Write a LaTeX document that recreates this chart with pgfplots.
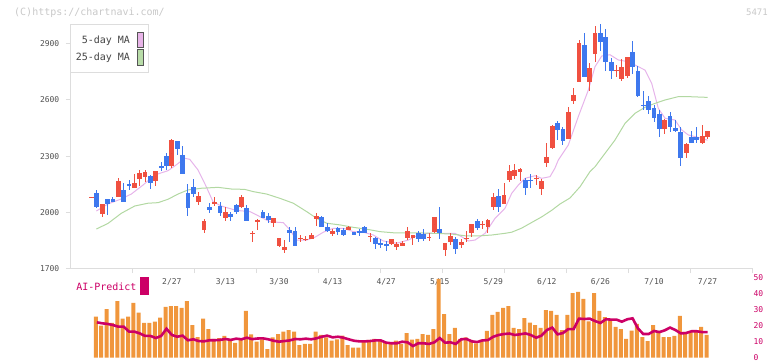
\documentclass[border=0pt]{standalone}
\usepackage{fontspec}
\usepackage{pgfplots}
\usepackage{pgfplotstable}
\pgfplotsset{compat=1.18}
\newfontfamily\mono{DejaVu Sans Mono}

\definecolor{candleRed}{HTML}{F05040}
\definecolor{candleBlue}{HTML}{3E78EE}
\definecolor{maPink}{HTML}{E6B4EA}
\definecolor{maGreen}{HTML}{B2D8A2}
\definecolor{maPinkBox}{HTML}{E8B4E8}
\definecolor{maGreenBox}{HTML}{B8DCA8}
\definecolor{swatchBorder}{HTML}{555555}
\definecolor{volOrange}{HTML}{F0963C}
\definecolor{aiMagenta}{HTML}{CC0066}
\definecolor{gridGrey}{HTML}{DDDDDD}
\definecolor{tickGrey}{HTML}{505050}
\definecolor{textGrey}{HTML}{444444}
\definecolor{headGrey}{HTML}{C8C8C8}

% daily candles: index, open, high, low, close
\pgfplotstableread{
i o h l c
0 2078 2083 2078 2083
2 1990 2044 1974 2044
5 2083 2183 2083 2167
8 2129 2204 2129 2156
9 2179 2226 2140 2211
10 2190 2226 2163 2215
12 2167 2222 2140 2220
15 2247 2391 2236 2386
20 2055 2108 2038 2087
21 1905 1964 1889 1953
23 2046 2081 2033 2055
25 1969 2028 1953 2001
28 2028 2092 2022 2081
30 1885 1899 1842 1889
31 1953 1962 1905 1957
34 1944 1969 1922 1969
35 1821 1862 1815 1862
36 1798 1851 1783 1814
39 1860 1878 1842 1864
40 1855 1873 1846 1859
41 1857 1887 1857 1878
42 1965 1994 1928 1980
45 1883 1910 1873 1899
48 1905 1926 1905 1921
52 1871 1887 1841 1875
56 1830 1857 1825 1857
57 1814 1840 1798 1830
58 1821 1848 1821 1837
59 1864 1921 1851 1899
60 1864 1878 1825 1878
63 1865 1889 1848 1869
64 1894 1976 1889 1974
66 1798 1835 1767 1835
67 1841 1889 1825 1873
69 1825 1857 1809 1841
70 1860 1899 1841 1864
71 1889 1937 1867 1937
73 1935 1953 1910 1939
74 1921 1964 1889 1958
75 2028 2103 2012 2081
77 2044 2156 2044 2092
78 2172 2252 2161 2220
79 2194 2258 2177 2226
80 2215 2236 2167 2231
83 2181 2199 2145 2185
84 2124 2177 2092 2167
85 2263 2370 2243 2295
86 2343 2466 2338 2461
89 2391 2562 2391 2536
90 2595 2664 2579 2627
91 2696 2921 2696 2905
93 2696 2798 2648 2771
94 2846 2996 2804 2958
98 2758 2787 2723 2762
99 2712 2819 2702 2776
100 2728 2830 2720 2830
107 2445 2498 2418 2493
111 2317 2370 2290 2365
114 2370 2466 2365 2407
115 2402 2434 2390 2434
}\upcandles

\pgfplotstableread{
i o h l c
1 2103 2117 2022 2028
3 2071 2071 1985 2044
4 2071 2083 2056 2056
6 2119 2156 2056 2056
7 2151 2172 2119 2142
11 2194 2198 2124 2156
13 2247 2268 2220 2238
14 2300 2317 2226 2247
16 2381 2381 2307 2340
17 2306 2354 2204 2204
18 2103 2151 1980 2022
19 2135 2177 2081 2097
22 2028 2049 1996 2012
24 2033 2055 1980 1996
26 1990 2001 1955 1976
27 2038 2044 1990 2001
29 2022 2038 1953 1953
32 2001 2012 1971 1971
33 1980 1996 1944 1958
37 1905 1922 1842 1890
38 1899 1921 1821 1821
43 1974 1980 1921 1921
44 1921 1944 1894 1899
46 1915 1921 1878 1894
47 1905 1915 1873 1878
49 1894 1896 1876 1878
50 1899 1910 1873 1889
51 1921 1926 1889 1889
53 1862 1867 1803 1830
54 1835 1856 1808 1825
55 1830 1846 1793 1819
61 1889 1899 1842 1857
62 1883 1910 1848 1857
65 1910 2029 1857 1889
68 1857 1867 1778 1803
72 1953 1964 1906 1916
76 2087 2124 2001 2029
81 2172 2183 2092 2129
82 2174 2204 2129 2169
87 2477 2488 2386 2440
88 2445 2456 2359 2381
92 2894 2958 2723 2723
95 2958 3006 2862 2910
96 2937 2980 2755 2804
97 2804 2825 2712 2755
101 2857 2916 2739 2776
102 2755 2782 2616 2621
103 2575 2648 2546 2570
104 2595 2621 2525 2546
105 2557 2573 2482 2503
106 2525 2546 2402 2445
108 2514 2536 2429 2456
109 2450 2493 2429 2434
110 2429 2456 2247 2290
112 2402 2434 2370 2370
113 2402 2456 2370 2386
}\downcandles

% 5-day moving average
\pgfplotstableread{
i v
0.9 2006
3.08 2044
5.56 2071
7.43 2097
9.61 2145
11.8 2199
14.28 2222
15.77 2252
17.4 2288
18.33 2283
19.88 2226
21.43 2136
22.68 2056
24.23 2033
26.73 2012
27.7 2008
29.6 2003
31.45 1976
33.3 1949
35.8 1944
37.05 1905
38.3 1851
40.17 1851
41.7 1866
43.27 1893
45.14 1914
47.0 1914
48.87 1896
50.74 1893
52.6 1878
54.47 1846
56.97 1834
59.14 1851
61.0 1878
62.87 1887
65.37 1887
67.86 1887
69.1 1869
70.34 1846
71.59 1851
73.46 1887
75.32 1967
77.19 2021
78.44 2101
79.67 2145
80.92 2181
82.79 2195
84.04 2181
85.59 2190
86.5 2235
87.14 2279
89.0 2359
90.87 2511
92.74 2653
93.99 2778
95.24 2835
96.79 2842
98.34 2814
100.2 2805
102.07 2778
103.32 2760
104.57 2689
105.8 2556
107.06 2502
108.92 2493
110.17 2440
111.4 2413
113.27 2400
115 2385
}\mafive

% 25-day moving average
\pgfplotstableread{
i v
0.9 1910
3.08 1940
5.56 1994
8.06 2033
10.55 2048
12.41 2051
14.28 2069
16.15 2097
18.01 2119
20.5 2128
23.61 2133
26.1 2124
28.6 2122
30.2 2110
32.7 2097
35.19 2074
37.67 2048
40.17 2003
42.04 1967
43.9 1941
46.39 1932
48.87 1919
51.37 1909
53.86 1896
56.34 1890
60.39 1890
64.12 1887
67.24 1883
69.72 1874
72.2 1873
74.71 1878
77.19 1887
78.44 1893
80.31 1915
82.17 1945
84.04 1975
85.9 2010
87.46 2044
89.32 2076
91.19 2136
93.05 2217
93.99 2243
95.86 2315
97.72 2386
99.59 2475
101.46 2529
103.32 2561
105.19 2582
107.06 2600
109.54 2618
111.4 2618
115 2614
}\matwentyfive

% volume (bars) and AI-Predict line, same index as the candles
\pgfplotstableread{
i v p
1 25.6 22.1
2 20.0 21.5
3 30.4 21.1
4 21.7 20.4
5 35.4 19.4
6 24.4 19.4
7 25.6 16.3
8 34.2 16.3
9 28.1 15.2
10 21.7 13.6
11 21.7 13.6
12 22.5 12.3
13 25.0 13.6
14 31.7 18.1
15 32.3 14.2
16 32.3 13.1
17 31.1 13.8
18 35.4 10.9
19 20.4 11.5
20 12.9 10.4
21 24.4 10.2
22 17.9 10.9
23 11.7 10.9
24 12.3 11.1
25 13.6 11.7
26 11.7 11.1
27 9.2 11.9
28 11.7 11.5
29 29.2 12.5
30 14.5 11.6
31 10.0 12.0
32 11.5 12.1
33 5.4 11.5
34 12.7 10.6
35 14.8 10.0
36 16.3 10.4
37 17.3 10.8
38 16.3 11.7
39 7.9 11.5
40 8.6 11.9
41 8.6 11.5
42 16.3 12.1
43 14.2 13.1
44 12.7 13.8
45 10.6 12.7
46 11.5 13.1
47 13.8 12.5
48 7.9 11.5
49 6.3 10.6
50 6.3 10.2
51 10.0 10.2
52 11.1 10.4
53 11.7 10.8
54 10.6 10.8
55 9.4 9.4
56 9.0 9.0
57 10.6 9.0
58 8.6 10.0
59 15.4 9.6
60 11.3 7.3
61 11.7 9.0
62 14.8 9.0
63 14.2 8.6
64 17.9 9.6
65 49.2 12.3
66 27.3 9.4
67 14.8 9.6
68 18.6 8.6
69 11.7 11.5
70 12.7 11.7
71 11.1 10.2
72 9.0 9.8
73 11.3 10.8
74 16.7 11.0
75 26.7 13.1
76 28.6 14.2
77 31.2 14.8
78 32.3 15.1
79 18.6 14.2
80 17.9 14.6
81 24.8 15.2
82 21.9 14.2
83 20.4 12.5
84 18.6 13.8
85 29.8 17.3
86 29.2 18.8
87 26.7 14.6
88 17.3 15.4
89 26.7 17.9
90 40.4 17.9
91 41.1 24.4
92 36.7 24.2
93 22.7 24.4
94 40.4 22.9
95 29.2 21.7
96 25.4 24.0
97 22.9 23.8
98 19.2 23.8
99 17.9 22.5
100 11.7 24.0
101 16.9 24.6
102 21.1 18.3
103 12.9 14.8
104 10.4 14.8
105 20.4 16.7
106 16.7 16.0
107 12.9 17.1
108 12.9 18.8
109 13.6 17.3
110 26.1 15.2
111 16.1 15.4
112 16.7 16.5
113 17.3 16.5
114 19.2 16.0
115 14.2 16.0
}\volume

\pgfplotsset{
  candle part/.style 2 args={only marks, mark size=0pt,
    mark options={draw=none, fill=none}, forget plot,
    error bars/.cd, y dir=both, y explicit, error mark=none,
    error bar style={line width=#1, draw=#2}},
}

\begin{document}
\begin{tikzpicture}
\useasboundingbox (0,0) rectangle (772pt,361pt);

% header texts
\node[anchor=base west, inner sep=0pt, text=headGrey, font=\mono\fontsize{10}{12}\selectfont]
  at (14pt,345.5pt) {(C)https://chartnavi.com/};
\node[anchor=base east, inner sep=0pt, text=headGrey, font=\mono\fontsize{9}{11}\selectfont]
  at (768pt,345.5pt) {5471};

% price panel
\begin{axis}[
  at={(70.5pt,92.7pt)}, anchor=south west,
  scale only axis, width=681.8pt, height=244.3pt,
  xmin=-3.92, xmax=123.35, ymin=1700, ymax=3006.4,
  clip=false,
  axis lines*=left,
  axis line style={draw=gridGrey, line width=1pt},
  tick align=outside, major tick length=5pt,
  tick style={draw=gridGrey, line width=1pt},
  xtick={7.65,19.22,30.79,42.36,53.93,65.5,77.07,88.64,100.21,111.78,123.35},
  xticklabels={},
  ytick={1700,2000,2300,2600,2900},
  /pgf/number format/assume math mode=true,
  /pgf/number format/1000 sep={},
  yticklabel style={font=\mono\fontsize{8}{9}\selectfont, text=tickGrey,
    anchor=east, inner sep=0pt, xshift=-6pt},
  extra x ticks={15,25,...,115},
  extra x tick labels={2/27,3/13,3/30,4/13,4/27,5/15,5/29,6/12,6/26,7/10,7/27},
  extra x tick style={major tick length=0pt,
    xticklabel style={font=\mono\fontsize{8}{9}\selectfont, text=tickGrey,
      anchor=base, inner sep=0pt, yshift=-16.7pt}},
  legend style={at={(0,1)}, anchor=north west, xshift=-0.5pt,
    draw=gridGrey, line width=1pt, fill=white,
    inner xsep=5.3pt, inner ysep=7.5pt, row sep=0.9pt, column sep=6.7pt,
    font=\mono\fontsize{10}{12}\selectfont, text=textGrey,
    nodes={inner sep=0pt}},
  legend cell align=right, legend plot pos=right,
]
\addplot[maPink, line width=1pt,
  legend image code/.code={\draw[draw=swatchBorder, line width=0.8pt, fill=maPinkBox]
    (0pt,-7.6pt) rectangle (6pt,7.9pt);}]
  table[x=i, y=v] \mafive;
\addlegendentry{5-day MA}
\addplot[maGreen, line width=1pt,
  legend image code/.code={\draw[draw=swatchBorder, line width=0.8pt, fill=maGreenBox]
    (0pt,-7.6pt) rectangle (6pt,7.9pt);}]
  table[x=i, y=v] \matwentyfive;
\addlegendentry{25-day MA}

% wicks: from low to high
\addplot[candle part={1pt}{candleRed}]
  table[x=i, y expr={(\thisrow{h}+\thisrow{l})/2},
    y error expr={(\thisrow{h}-\thisrow{l})/2}] \upcandles;
\addplot[candle part={1pt}{candleBlue}]
  table[x=i, y expr={(\thisrow{h}+\thisrow{l})/2},
    y error expr={(\thisrow{h}-\thisrow{l})/2}] \downcandles;
% bodies: from open to close
\addplot[candle part={4.8pt}{candleRed}]
  table[x=i, y expr={(\thisrow{o}+\thisrow{c})/2},
    y error expr={abs(\thisrow{c}-\thisrow{o})/2}] \upcandles;
\addplot[candle part={4.8pt}{candleBlue}]
  table[x=i, y expr={(\thisrow{o}+\thisrow{c})/2},
    y error expr={abs(\thisrow{c}-\thisrow{o})/2}] \downcandles;
\end{axis}

% volume / AI-Predict panel
\begin{axis}[
  at={(70.5pt,3.3pt)}, anchor=south west,
  scale only axis, width=681.8pt, height=88pt,
  xmin=-3.92, xmax=123.35, ymin=0, ymax=55,
  clip=false,
  axis x line=none, axis y line*=right,
  y axis line style={draw=none},
  xtick=\empty,
  ytick={0,10,20,30,40,50}, major tick length=0pt,
  /pgf/number format/assume math mode=true,
  yticklabel style={font=\mono\fontsize{8}{9}\selectfont, text=aiMagenta,
    anchor=west, inner sep=0pt, xshift=1pt, yshift=0.4pt},
  legend style={at={(0.1147,0.917)}, anchor=north east,
    draw=none, fill=none, inner sep=0pt, column sep=3pt,
    font=\mono\fontsize{10}{12}\selectfont, text=aiMagenta,
    nodes={inner sep=0pt}},
  legend cell align=right, legend plot pos=right,
]
\addplot[ybar, bar width=4pt, bar shift=-1pt, fill=volOrange, draw=none, forget plot]
  table[x=i, y=v] \volume;
\addplot[aiMagenta, line width=2.6pt,
  legend image code/.code={\fill[aiMagenta] (0pt,-6.8pt) rectangle (6.4pt,8.8pt);}]
  table[x=i, y=p] \volume;
\addlegendentry{AI-Predict}
\end{axis}
\end{tikzpicture}
\end{document}
